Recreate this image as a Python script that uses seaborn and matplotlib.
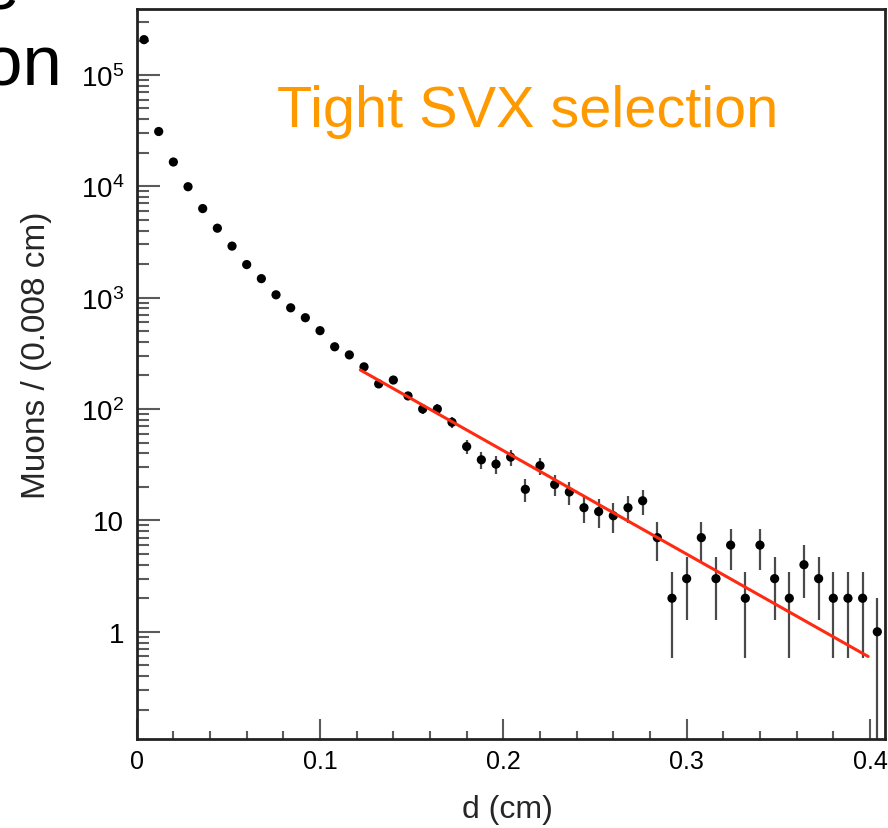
import numpy as np
import pandas as pd
import matplotlib
matplotlib.use("Agg")
import matplotlib.pyplot as plt
import matplotlib.ticker as mticker
import seaborn as sns

# ---------------- data ----------------
bin_centers = [0.004, 0.012, 0.020, 0.028, 0.036, 0.044, 0.052, 0.060, 0.068, 0.076,
               0.084, 0.092, 0.100, 0.108, 0.116, 0.124, 0.132, 0.140, 0.148, 0.156,
               0.164, 0.172, 0.180, 0.188, 0.196, 0.204, 0.212, 0.220, 0.228, 0.236,
               0.244, 0.252, 0.260, 0.268, 0.276, 0.284, 0.292, 0.300, 0.308, 0.316,
               0.324, 0.332, 0.340, 0.348, 0.356, 0.364, 0.372, 0.380, 0.388, 0.396,
               0.404]
muon_counts = [207000, 31000, 16500, 9900, 6300, 4200, 2900, 1980, 1480, 1060,
               810, 660, 505, 362, 306, 239, 168, 182, 131, 100,
               100, 76, 46, 35, 32, 37, 19, 31, 21, 18,
               13, 12, 11, 13, 15, 7, 2, 3, 7, 3,
               6, 2, 6, 3, 2, 4, 3, 2, 2, 2,
               1]
fit_d = [0.122, 0.399]
fit_counts = [224, 0.60]

y_tick_values = [1, 10, 100, 1000, 10000, 100000]
y_tick_labels = ["1", "10", "10$^2$", "10$^3$", "10$^4$", "10$^5$"]
x_tick_values = [0, 0.1, 0.2, 0.3, 0.4]
x_tick_labels = ["0", "0.1", "0.2", "0.3", "0.4"]

# ---------------- style ----------------
sns.set_style("ticks")
plt.rcParams["font.family"] = ["Liberation Sans", "DejaVu Sans"]
plt.rcParams["mathtext.fontset"] = "custom"
plt.rcParams["mathtext.rm"] = "Liberation Sans"
plt.rcParams["mathtext.it"] = "Liberation Sans:italic"
plt.rcParams["mathtext.bf"] = "Liberation Sans:bold"

W, H = 888, 829
fig = plt.figure(figsize=(W / 100, H / 100), dpi=100)
left, right, top, bottom = 136.7, 885, 10, 740
ax = fig.add_axes([left / W, (H - bottom) / H, (right - left) / W, (bottom - top) / H])

df = pd.DataFrame({"d": bin_centers, "n": muon_counts})
err = np.sqrt(df["n"].to_numpy(dtype=float))
lower = np.minimum(err, df["n"].to_numpy(dtype=float) * 0.999999)

ax.errorbar(df["d"], df["n"], yerr=[lower, err], fmt="none",
            ecolor="#4a4a4a", elinewidth=1.6, capsize=0, zorder=2)
sns.scatterplot(data=df, x="d", y="n", ax=ax, color="black", s=44,
                edgecolor="none", linewidth=0, zorder=3, legend=False)
sns.lineplot(x=fit_d, y=fit_counts, ax=ax, color="#ff2a12", linewidth=2.2,
             zorder=4, legend=False)

ax.set_yscale("log")
ax.set_xlim(0, 0.4082)
ax.set_ylim(0.109, 3.9e5)

ax.yaxis.set_major_locator(mticker.FixedLocator(y_tick_values))
ax.yaxis.set_major_formatter(mticker.FixedFormatter(y_tick_labels))
ax.yaxis.set_minor_locator(mticker.LogLocator(base=10, subs=np.arange(2, 10), numticks=20))
ax.yaxis.set_minor_formatter(mticker.NullFormatter())

ax.xaxis.set_major_locator(mticker.FixedLocator(x_tick_values))
ax.xaxis.set_major_formatter(mticker.FixedFormatter(x_tick_labels))
ax.xaxis.set_minor_locator(mticker.MultipleLocator(0.02))

tick_col = "#5a5a5a"
ax.tick_params(axis="both", which="both", direction="in", colors=tick_col,
               labelcolor="black", width=1.5)
ax.tick_params(axis="y", which="major", length=16.5, labelsize=20, pad=9)
ax.tick_params(axis="y", which="minor", length=8.5)
ax.tick_params(axis="x", which="major", length=14.5, labelsize=18, pad=7)
ax.tick_params(axis="x", which="minor", length=6)
ax.tick_params(top=False, right=False, which="both")

for s in ax.spines.values():
    s.set_visible(True)
    s.set_linewidth(2.0)
    s.set_color("#222222")

ax.set_xlabel("d (cm)", fontsize=23)
ax.set_ylabel("Muons / (0.008 cm)", fontsize=24)
ax.xaxis.set_label_coords(0.495, -0.075)
ax.yaxis.set_label_coords(-0.113, 0.527)

fig.text(528 / W, (H - 127) / H, "Tight SVX selection", color="#ff9900",
         fontsize=41.5, ha="center", va="baseline")
fig.text(62 / W, (H - 85) / H, "on", color="black", fontsize=51,
         ha="right", va="baseline")
fig.text(19 / W, (H - 9) / H, "e", color="black", fontsize=51,
         ha="right", va="baseline")

fig.savefig("out.png", dpi=100)
